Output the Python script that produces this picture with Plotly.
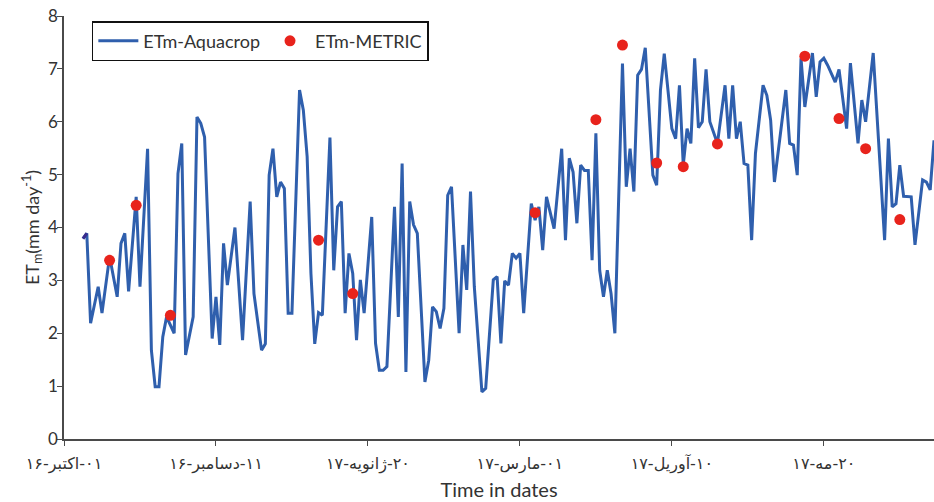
import plotly.graph_objects as go

# ---- data (day index from 01-Oct) ----
aq_day = [5,6,7,9,10,12,14,15,16,17,19,20,22,23,24,25,26,27,29,30,31,32,34,35,36,37,39,40,41,42,43,45,47,49,50,51,52,53,54,55,56,57,58,59,60,62,63,64,65,66,67,68,70,71,72,73,74,75,76,77,78,79,81,82,83,84,85,87,88,89,90,91,92,93,95,96,97,98,99,100,101,102,104,105,106,107,108,110,111,113,114,115,116,117,118,119,120,121,123,124,125,126,127,129,131,132,133,134,135,136,137,138,139,140,141,142,143,144,145,147,148,149,150,151,152,153,155,156,157,158,160,161,162,163,164,165,166,167,168,169,170,172,174,175,176,177,178,179,180,181,182,184,185,186,187,190,191,192,193,194,195,197,198,199,200,201,203,204,206,207,209,210,211,213,216,217,218,219,220,221,223,224,226,227,228,229]
aq_val = [3.79,3.89,2.19,2.88,2.38,3.45,2.69,3.70,3.89,2.79,4.58,2.88,5.49,1.68,0.99,0.99,1.93,2.31,2.0,5.02,5.59,1.59,2.31,6.09,5.97,5.71,1.90,2.69,1.78,3.70,2.91,4.0,1.87,4.49,2.75,2.19,1.68,1.80,4.99,5.49,4.58,4.86,4.74,2.38,2.38,6.60,6.22,5.34,3.13,1.80,2.39,2.34,5.70,3.19,4.39,4.49,2.38,3.51,3.13,1.87,3.01,2.38,4.20,1.81,1.30,1.30,1.37,4.39,2.31,5.21,1.27,4.49,4.05,3.89,1.08,1.49,2.50,2.41,2.09,2.47,4.61,4.77,2.0,3.67,2.82,4.68,2.88,0.89,0.96,3.01,3.07,1.81,2.99,2.91,3.51,3.42,3.51,2.38,4.45,4.14,4.39,3.57,4.58,3.98,5.49,3.76,5.31,5.05,4.08,5.18,5.08,5.08,3.38,5.78,3.19,2.69,3.19,2.75,2.0,7.10,4.77,5.49,4.68,6.88,6.99,7.40,4.99,4.80,6.60,7.29,5.87,5.68,6.69,5.18,5.87,5.59,7.20,5.89,6.00,6.99,6.00,5.59,6.69,5.68,6.69,5.68,6.00,5.21,5.18,3.76,5.40,6.69,6.50,6.03,4.86,6.60,5.59,5.56,4.99,7.20,6.28,7.30,6.47,7.13,7.20,7.07,6.75,6.99,5.87,7.11,5.59,6.41,6.00,7.30,3.76,5.68,4.39,4.45,5.18,4.59,4.58,3.67,4.90,4.86,4.71,5.65]

me_day = [12,19,28,67,76,124,140,147,156,163,172,195,204,211,220]
me_val = [3.38,4.42,2.34,3.76,2.75,4.28,6.04,7.45,5.22,5.15,5.58,7.24,6.06,5.49,4.15]

tick_days = [0,40,80,120,160,200]
RLM = "\u200F"
tick_labels = [RLM + s for s in ["۰۱-اکتبر-۱۶","۱۱-دسامبر-۱۶","۲۰-ژانویه-۱۷","۰۱-مارس-۱۷","۱۰-آوریل-۱۷","۲۰-مه-۱۷"]]

LINE_C = "#2F5FAD"
DOT_C = "#E8231C"
AX_C = "#4a4a4a"

fig = go.Figure()
fig.add_trace(go.Scatter(x=aq_day, y=aq_val, mode="lines", name="ETm-Aquacrop",
                         line=dict(color=LINE_C, width=3)))
fig.add_trace(go.Scatter(x=aq_day[:2], y=aq_val[:2], mode="lines", showlegend=False,
                         line=dict(color="#3A2B8C", width=3), hoverinfo="skip"))
fig.add_trace(go.Scatter(x=me_day, y=me_val, mode="markers", name="ETm-METRIC",
                         marker=dict(color=DOT_C, size=11)))

fig.update_layout(
    width=934, height=502,
    margin=dict(l=64, r=0, t=16, b=63),
    paper_bgcolor="white", plot_bgcolor="white",
    font=dict(family="Lato, Open Sans, sans-serif", color="#333333", size=16),
    showlegend=True,
    legend=dict(orientation="h", x=0.032, y=0.988, xanchor="left", yanchor="top",
                bordercolor="#111111", borderwidth=1.5, bgcolor="white",
                font=dict(size=18, color="#333333"), itemwidth=40,
                tracegroupgap=0),
    xaxis=dict(range=[0, 229], tickmode="array", tickvals=tick_days, ticktext=tick_labels,
               showline=True, linecolor=AX_C, linewidth=1.5, ticks="outside",
               ticklen=5, tickcolor=AX_C, showgrid=False, zeroline=False, automargin=False,
               ticklabelstandoff=4,
               tickfont=dict(family="DejaVu Sans", size=16, color="#333333"),
               title=dict(text="Time in dates", font=dict(size=20, color="#333333"), standoff=10)),
    yaxis=dict(range=[0, 8], dtick=1, showline=True, linecolor=AX_C, linewidth=1.5,
               ticks="outside", ticklen=5, tickcolor=AX_C, showgrid=False, zeroline=False,
               automargin=False, ticklabelstandoff=-4,
               tickfont=dict(size=17, color="#333333"),
               title=dict(text="ET<sub>m</sub>(mm day<sup>-1</sup>)", font=dict(size=18, color="#333333"), standoff=4)),
)

fig.write_html("out.html", config={"displayModeBar": False},
               post_script="document.body.style.margin='0';document.body.style.padding='0';")
